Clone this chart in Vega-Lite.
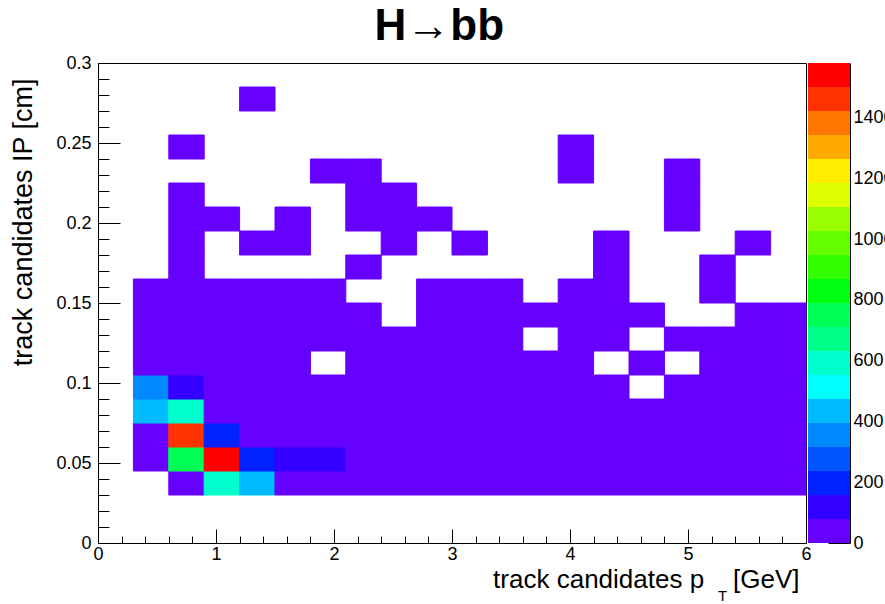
{
  "$schema": "https://vega.github.io/schema/vega-lite/v6.json",
  "background": "white",
  "padding": {"left": 9, "top": 4, "right": -8, "bottom": 0},
  "bounds": "flush",
  "title": {"text": "H→bb", "fontSize": 44, "fontWeight": "bold", "font": "Liberation Sans", "color": "black", "anchor": "middle", "offset": 5, "dx": -12},
  "config": {
    "font": "Liberation Sans",
    "view": {"stroke": null},
    "axis": {"labelFont": "Liberation Sans", "titleFont": "Liberation Sans", "labelColor": "black", "titleColor": "black", "tickColor": "black", "domainColor": "black", "grid": false, "titleFontWeight": "normal", "labelFlush": false, "labelOverlap": false}
  },
  "datasets": {
    "cells": [
      {"pt":0.6,"pt2":0.9,"ip":0.03,"ip2":0.045,"n":40},
      {"pt":0.9,"pt2":1.2,"ip":0.03,"ip2":0.045,"n":580},
      {"pt":1.2,"pt2":1.5,"ip":0.03,"ip2":0.045,"n":440},
      {"pt":1.5,"pt2":1.8,"ip":0.03,"ip2":0.045,"n":70},
      {"pt":1.8,"pt2":2.1,"ip":0.03,"ip2":0.045,"n":60},
      {"pt":2.1,"pt2":2.4,"ip":0.03,"ip2":0.045,"n":55},
      {"pt":2.4,"pt2":2.7,"ip":0.03,"ip2":0.045,"n":50},
      {"pt":2.7,"pt2":3.0,"ip":0.03,"ip2":0.045,"n":45},
      {"pt":3.0,"pt2":3.3,"ip":0.03,"ip2":0.045,"n":40},
      {"pt":3.3,"pt2":3.6,"ip":0.03,"ip2":0.045,"n":38},
      {"pt":3.6,"pt2":3.9,"ip":0.03,"ip2":0.045,"n":35},
      {"pt":3.9,"pt2":4.2,"ip":0.03,"ip2":0.045,"n":32},
      {"pt":4.2,"pt2":4.5,"ip":0.03,"ip2":0.045,"n":30},
      {"pt":4.5,"pt2":4.8,"ip":0.03,"ip2":0.045,"n":28},
      {"pt":4.8,"pt2":5.1,"ip":0.03,"ip2":0.045,"n":26},
      {"pt":5.1,"pt2":5.4,"ip":0.03,"ip2":0.045,"n":24},
      {"pt":5.4,"pt2":5.7,"ip":0.03,"ip2":0.045,"n":22},
      {"pt":5.7,"pt2":6.0,"ip":0.03,"ip2":0.045,"n":20},

      {"pt":0.3,"pt2":0.6,"ip":0.045,"ip2":0.06,"n":45},
      {"pt":0.6,"pt2":0.9,"ip":0.045,"ip2":0.06,"n":750},
      {"pt":0.9,"pt2":1.2,"ip":0.045,"ip2":0.06,"n":1575},
      {"pt":1.2,"pt2":1.5,"ip":0.045,"ip2":0.06,"n":210},
      {"pt":1.5,"pt2":1.8,"ip":0.045,"ip2":0.06,"n":110},
      {"pt":1.8,"pt2":2.1,"ip":0.045,"ip2":0.06,"n":95},
      {"pt":2.1,"pt2":2.4,"ip":0.045,"ip2":0.06,"n":65},
      {"pt":2.4,"pt2":2.7,"ip":0.045,"ip2":0.06,"n":58},
      {"pt":2.7,"pt2":3.0,"ip":0.045,"ip2":0.06,"n":52},
      {"pt":3.0,"pt2":3.3,"ip":0.045,"ip2":0.06,"n":46},
      {"pt":3.3,"pt2":3.6,"ip":0.045,"ip2":0.06,"n":42},
      {"pt":3.6,"pt2":3.9,"ip":0.045,"ip2":0.06,"n":38},
      {"pt":3.9,"pt2":4.2,"ip":0.045,"ip2":0.06,"n":35},
      {"pt":4.2,"pt2":4.5,"ip":0.045,"ip2":0.06,"n":32},
      {"pt":4.5,"pt2":4.8,"ip":0.045,"ip2":0.06,"n":30},
      {"pt":4.8,"pt2":5.1,"ip":0.045,"ip2":0.06,"n":27},
      {"pt":5.1,"pt2":5.4,"ip":0.045,"ip2":0.06,"n":25},
      {"pt":5.4,"pt2":5.7,"ip":0.045,"ip2":0.06,"n":23},
      {"pt":5.7,"pt2":6.0,"ip":0.045,"ip2":0.06,"n":21},

      {"pt":0.3,"pt2":0.6,"ip":0.06,"ip2":0.075,"n":50},
      {"pt":0.6,"pt2":0.9,"ip":0.06,"ip2":0.075,"n":1460},
      {"pt":0.9,"pt2":1.2,"ip":0.06,"ip2":0.075,"n":200},
      {"pt":1.2,"pt2":1.5,"ip":0.06,"ip2":0.075,"n":70},
      {"pt":1.5,"pt2":1.8,"ip":0.06,"ip2":0.075,"n":60},
      {"pt":1.8,"pt2":2.1,"ip":0.06,"ip2":0.075,"n":52},
      {"pt":2.1,"pt2":2.4,"ip":0.06,"ip2":0.075,"n":46},
      {"pt":2.4,"pt2":2.7,"ip":0.06,"ip2":0.075,"n":40},
      {"pt":2.7,"pt2":3.0,"ip":0.06,"ip2":0.075,"n":36},
      {"pt":3.0,"pt2":3.3,"ip":0.06,"ip2":0.075,"n":32},
      {"pt":3.3,"pt2":3.6,"ip":0.06,"ip2":0.075,"n":29},
      {"pt":3.6,"pt2":3.9,"ip":0.06,"ip2":0.075,"n":26},
      {"pt":3.9,"pt2":4.2,"ip":0.06,"ip2":0.075,"n":24},
      {"pt":4.2,"pt2":4.5,"ip":0.06,"ip2":0.075,"n":22},
      {"pt":4.5,"pt2":4.8,"ip":0.06,"ip2":0.075,"n":20},
      {"pt":4.8,"pt2":5.1,"ip":0.06,"ip2":0.075,"n":18},
      {"pt":5.1,"pt2":5.4,"ip":0.06,"ip2":0.075,"n":17},
      {"pt":5.4,"pt2":5.7,"ip":0.06,"ip2":0.075,"n":15},
      {"pt":5.7,"pt2":6.0,"ip":0.06,"ip2":0.075,"n":14},

      {"pt":0.3,"pt2":0.6,"ip":0.075,"ip2":0.09,"n":430},
      {"pt":0.6,"pt2":0.9,"ip":0.075,"ip2":0.09,"n":590},
      {"pt":0.9,"pt2":1.2,"ip":0.075,"ip2":0.09,"n":62},
      {"pt":1.2,"pt2":1.5,"ip":0.075,"ip2":0.09,"n":48},
      {"pt":1.5,"pt2":1.8,"ip":0.075,"ip2":0.09,"n":40},
      {"pt":1.8,"pt2":2.1,"ip":0.075,"ip2":0.09,"n":34},
      {"pt":2.1,"pt2":2.4,"ip":0.075,"ip2":0.09,"n":30},
      {"pt":2.4,"pt2":2.7,"ip":0.075,"ip2":0.09,"n":26},
      {"pt":2.7,"pt2":3.0,"ip":0.075,"ip2":0.09,"n":23},
      {"pt":3.0,"pt2":3.3,"ip":0.075,"ip2":0.09,"n":21},
      {"pt":3.3,"pt2":3.6,"ip":0.075,"ip2":0.09,"n":19},
      {"pt":3.6,"pt2":3.9,"ip":0.075,"ip2":0.09,"n":17},
      {"pt":3.9,"pt2":4.2,"ip":0.075,"ip2":0.09,"n":15},
      {"pt":4.2,"pt2":4.5,"ip":0.075,"ip2":0.09,"n":14},
      {"pt":4.5,"pt2":4.8,"ip":0.075,"ip2":0.09,"n":12},
      {"pt":4.8,"pt2":5.1,"ip":0.075,"ip2":0.09,"n":11},
      {"pt":5.1,"pt2":5.4,"ip":0.075,"ip2":0.09,"n":10},
      {"pt":5.4,"pt2":5.7,"ip":0.075,"ip2":0.09,"n":9},
      {"pt":5.7,"pt2":6.0,"ip":0.075,"ip2":0.09,"n":8},

      {"pt":0.3,"pt2":0.6,"ip":0.09,"ip2":0.105,"n":350},
      {"pt":0.6,"pt2":0.9,"ip":0.09,"ip2":0.105,"n":120},
      {"pt":0.9,"pt2":1.2,"ip":0.09,"ip2":0.105,"n":45},
      {"pt":1.2,"pt2":1.5,"ip":0.09,"ip2":0.105,"n":35},
      {"pt":1.5,"pt2":1.8,"ip":0.09,"ip2":0.105,"n":28},
      {"pt":1.8,"pt2":2.1,"ip":0.09,"ip2":0.105,"n":23},
      {"pt":2.1,"pt2":2.4,"ip":0.09,"ip2":0.105,"n":20},
      {"pt":2.4,"pt2":2.7,"ip":0.09,"ip2":0.105,"n":17},
      {"pt":2.7,"pt2":3.0,"ip":0.09,"ip2":0.105,"n":15},
      {"pt":3.0,"pt2":3.3,"ip":0.09,"ip2":0.105,"n":13},
      {"pt":3.3,"pt2":3.6,"ip":0.09,"ip2":0.105,"n":11},
      {"pt":3.6,"pt2":3.9,"ip":0.09,"ip2":0.105,"n":10},
      {"pt":3.9,"pt2":4.2,"ip":0.09,"ip2":0.105,"n":9},
      {"pt":4.2,"pt2":4.5,"ip":0.09,"ip2":0.105,"n":8},
      {"pt":4.8,"pt2":5.1,"ip":0.09,"ip2":0.105,"n":6},
      {"pt":5.1,"pt2":5.4,"ip":0.09,"ip2":0.105,"n":6},
      {"pt":5.4,"pt2":5.7,"ip":0.09,"ip2":0.105,"n":5},
      {"pt":5.7,"pt2":6.0,"ip":0.09,"ip2":0.105,"n":5},

      {"pt":0.3,"pt2":0.6,"ip":0.105,"ip2":0.12,"n":60},
      {"pt":0.6,"pt2":0.9,"ip":0.105,"ip2":0.12,"n":50},
      {"pt":0.9,"pt2":1.2,"ip":0.105,"ip2":0.12,"n":30},
      {"pt":1.2,"pt2":1.5,"ip":0.105,"ip2":0.12,"n":22},
      {"pt":1.5,"pt2":1.8,"ip":0.105,"ip2":0.12,"n":17},
      {"pt":2.1,"pt2":2.4,"ip":0.105,"ip2":0.12,"n":12},
      {"pt":2.4,"pt2":2.7,"ip":0.105,"ip2":0.12,"n":10},
      {"pt":2.7,"pt2":3.0,"ip":0.105,"ip2":0.12,"n":9},
      {"pt":3.0,"pt2":3.3,"ip":0.105,"ip2":0.12,"n":8},
      {"pt":3.3,"pt2":3.6,"ip":0.105,"ip2":0.12,"n":7},
      {"pt":3.6,"pt2":3.9,"ip":0.105,"ip2":0.12,"n":6},
      {"pt":3.9,"pt2":4.2,"ip":0.105,"ip2":0.12,"n":5},
      {"pt":4.5,"pt2":4.8,"ip":0.105,"ip2":0.12,"n":4},
      {"pt":5.1,"pt2":5.4,"ip":0.105,"ip2":0.12,"n":4},
      {"pt":5.4,"pt2":5.7,"ip":0.105,"ip2":0.12,"n":3},
      {"pt":5.7,"pt2":6.0,"ip":0.105,"ip2":0.12,"n":3},

      {"pt":0.3,"pt2":0.6,"ip":0.12,"ip2":0.135,"n":30},
      {"pt":0.6,"pt2":0.9,"ip":0.12,"ip2":0.135,"n":28},
      {"pt":0.9,"pt2":1.2,"ip":0.12,"ip2":0.135,"n":20},
      {"pt":1.2,"pt2":1.5,"ip":0.12,"ip2":0.135,"n":15},
      {"pt":1.5,"pt2":1.8,"ip":0.12,"ip2":0.135,"n":11},
      {"pt":1.8,"pt2":2.1,"ip":0.12,"ip2":0.135,"n":9},
      {"pt":2.1,"pt2":2.4,"ip":0.12,"ip2":0.135,"n":8},
      {"pt":2.4,"pt2":2.7,"ip":0.12,"ip2":0.135,"n":7},
      {"pt":2.7,"pt2":3.0,"ip":0.12,"ip2":0.135,"n":6},
      {"pt":3.0,"pt2":3.3,"ip":0.12,"ip2":0.135,"n":5},
      {"pt":3.3,"pt2":3.6,"ip":0.12,"ip2":0.135,"n":4},
      {"pt":3.9,"pt2":4.2,"ip":0.12,"ip2":0.135,"n":3},
      {"pt":4.2,"pt2":4.5,"ip":0.12,"ip2":0.135,"n":3},
      {"pt":4.8,"pt2":5.1,"ip":0.12,"ip2":0.135,"n":2},
      {"pt":5.1,"pt2":5.4,"ip":0.12,"ip2":0.135,"n":2},
      {"pt":5.4,"pt2":5.7,"ip":0.12,"ip2":0.135,"n":2},
      {"pt":5.7,"pt2":6.0,"ip":0.12,"ip2":0.135,"n":2},

      {"pt":0.3,"pt2":0.6,"ip":0.135,"ip2":0.15,"n":18},
      {"pt":0.6,"pt2":0.9,"ip":0.135,"ip2":0.15,"n":16},
      {"pt":0.9,"pt2":1.2,"ip":0.135,"ip2":0.15,"n":12},
      {"pt":1.2,"pt2":1.5,"ip":0.135,"ip2":0.15,"n":9},
      {"pt":1.5,"pt2":1.8,"ip":0.135,"ip2":0.15,"n":7},
      {"pt":1.8,"pt2":2.1,"ip":0.135,"ip2":0.15,"n":5},
      {"pt":2.1,"pt2":2.4,"ip":0.135,"ip2":0.15,"n":4},
      {"pt":2.7,"pt2":3.0,"ip":0.135,"ip2":0.15,"n":3},
      {"pt":3.0,"pt2":3.3,"ip":0.135,"ip2":0.15,"n":3},
      {"pt":3.3,"pt2":3.6,"ip":0.135,"ip2":0.15,"n":2},
      {"pt":3.6,"pt2":3.9,"ip":0.135,"ip2":0.15,"n":2},
      {"pt":3.9,"pt2":4.2,"ip":0.135,"ip2":0.15,"n":2},
      {"pt":4.2,"pt2":4.5,"ip":0.135,"ip2":0.15,"n":2},
      {"pt":4.5,"pt2":4.8,"ip":0.135,"ip2":0.15,"n":1},
      {"pt":5.4,"pt2":5.7,"ip":0.135,"ip2":0.15,"n":1},
      {"pt":5.7,"pt2":6.0,"ip":0.135,"ip2":0.15,"n":1},

      {"pt":0.3,"pt2":0.6,"ip":0.15,"ip2":0.165,"n":10},
      {"pt":0.6,"pt2":0.9,"ip":0.15,"ip2":0.165,"n":9},
      {"pt":0.9,"pt2":1.2,"ip":0.15,"ip2":0.165,"n":7},
      {"pt":1.2,"pt2":1.5,"ip":0.15,"ip2":0.165,"n":5},
      {"pt":1.5,"pt2":1.8,"ip":0.15,"ip2":0.165,"n":4},
      {"pt":1.8,"pt2":2.1,"ip":0.15,"ip2":0.165,"n":3},
      {"pt":2.7,"pt2":3.0,"ip":0.15,"ip2":0.165,"n":2},
      {"pt":3.0,"pt2":3.3,"ip":0.15,"ip2":0.165,"n":2},
      {"pt":3.3,"pt2":3.6,"ip":0.15,"ip2":0.165,"n":1},
      {"pt":3.9,"pt2":4.2,"ip":0.15,"ip2":0.165,"n":1},
      {"pt":4.2,"pt2":4.5,"ip":0.15,"ip2":0.165,"n":1},
      {"pt":5.1,"pt2":5.4,"ip":0.15,"ip2":0.165,"n":1},

      {"pt":0.6,"pt2":0.9,"ip":0.165,"ip2":0.18,"n":5},
      {"pt":2.1,"pt2":2.4,"ip":0.165,"ip2":0.18,"n":2},
      {"pt":4.2,"pt2":4.5,"ip":0.165,"ip2":0.18,"n":1},
      {"pt":5.1,"pt2":5.4,"ip":0.165,"ip2":0.18,"n":1},

      {"pt":0.6,"pt2":0.9,"ip":0.18,"ip2":0.195,"n":4},
      {"pt":1.2,"pt2":1.5,"ip":0.18,"ip2":0.195,"n":2},
      {"pt":1.5,"pt2":1.8,"ip":0.18,"ip2":0.195,"n":2},
      {"pt":2.4,"pt2":2.7,"ip":0.18,"ip2":0.195,"n":1},
      {"pt":3.0,"pt2":3.3,"ip":0.18,"ip2":0.195,"n":1},
      {"pt":4.2,"pt2":4.5,"ip":0.18,"ip2":0.195,"n":1},
      {"pt":5.4,"pt2":5.7,"ip":0.18,"ip2":0.195,"n":1},

      {"pt":0.6,"pt2":0.9,"ip":0.195,"ip2":0.21,"n":3},
      {"pt":0.9,"pt2":1.2,"ip":0.195,"ip2":0.21,"n":2},
      {"pt":1.5,"pt2":1.8,"ip":0.195,"ip2":0.21,"n":1},
      {"pt":2.1,"pt2":2.4,"ip":0.195,"ip2":0.21,"n":1},
      {"pt":2.4,"pt2":2.7,"ip":0.195,"ip2":0.21,"n":1},
      {"pt":2.7,"pt2":3.0,"ip":0.195,"ip2":0.21,"n":1},
      {"pt":4.8,"pt2":5.1,"ip":0.195,"ip2":0.21,"n":1},

      {"pt":0.6,"pt2":0.9,"ip":0.21,"ip2":0.225,"n":2},
      {"pt":2.1,"pt2":2.4,"ip":0.21,"ip2":0.225,"n":1},
      {"pt":2.4,"pt2":2.7,"ip":0.21,"ip2":0.225,"n":1},
      {"pt":4.8,"pt2":5.1,"ip":0.21,"ip2":0.225,"n":1},

      {"pt":1.8,"pt2":2.1,"ip":0.225,"ip2":0.24,"n":1},
      {"pt":2.1,"pt2":2.4,"ip":0.225,"ip2":0.24,"n":1},
      {"pt":3.9,"pt2":4.2,"ip":0.225,"ip2":0.24,"n":1},
      {"pt":4.8,"pt2":5.1,"ip":0.225,"ip2":0.24,"n":1},

      {"pt":0.6,"pt2":0.9,"ip":0.24,"ip2":0.255,"n":1},
      {"pt":3.9,"pt2":4.2,"ip":0.24,"ip2":0.255,"n":1},

      {"pt":1.2,"pt2":1.5,"ip":0.27,"ip2":0.285,"n":1}
    ],
    "bands": [
      {"lo":0,"hi":79},{"lo":79,"hi":158},{"lo":158,"hi":237},{"lo":237,"hi":316},
      {"lo":316,"hi":395},{"lo":395,"hi":474},{"lo":474,"hi":553},{"lo":553,"hi":632},
      {"lo":632,"hi":711},{"lo":711,"hi":790},{"lo":790,"hi":869},{"lo":869,"hi":948},
      {"lo":948,"hi":1027},{"lo":1027,"hi":1106},{"lo":1106,"hi":1185},{"lo":1185,"hi":1264},
      {"lo":1264,"hi":1343},{"lo":1343,"hi":1422},{"lo":1422,"hi":1501},{"lo":1501,"hi":1580}
    ]
  },
  "spacing": 2,
  "hconcat": [
    {
      "width": 708,
      "height": 480,
      "view": {"stroke": "black", "strokeWidth": 1},
      "data": {"name": "cells"},
      "layer": [
        {
          "mark": {"type": "rect", "strokeWidth": 1},
          "encoding": {
            "x": {"field": "pt", "type": "quantitative", "scale": {"domain": [0, 6], "nice": false, "zero": false},
              "axis": {"orient": "bottom", "values": [0,1,2,3,4,5,6], "format": "d", "tickSize": -14, "labelFontSize": 18, "labelPadding": 16, "domain": true,
                "title": "track candidates p\u00a0\u00a0\u00a0\u00a0[GeV]", "titleFontSize": 26, "titleAlign": "right", "titleAnchor": "end", "titleX": 701, "titleY": 44, "titleBaseline": "alphabetic"}},
            "x2": {"field": "pt2"},
            "y": {"field": "ip", "type": "quantitative", "scale": {"domain": [0, 0.3], "nice": false, "zero": false},
              "axis": {"orient": "left", "values": [0,0.05,0.1,0.15,0.2,0.25,0.3], "format": "~g", "tickSize": -22, "labelFontSize": 18, "labelPadding": 29, "domain": true,
                "title": "track candidates IP [cm]", "titleFontSize": 27, "titleAnchor": "end", "titleAlign": "right", "titleY": 15, "titlePadding": 18}},
            "y2": {"field": "ip2"},
            "color": {"field": "n", "type": "quantitative",
              "scale": {"type": "quantize", "domain": [0, 1580], "nice": false,
                "range": ["#6600ff","#3300ff","#0022ff","#0055ff","#0088ff","#00bbff","#00ffff","#00ffcc","#00ff88","#00ff55","#00ff11","#33ff00","#66ff00","#99ff00","#ddff00","#ffee00","#ffaa00","#ff7700","#ff3300","#ff0000"]},
              "legend": null},
            "stroke": {"field": "n", "type": "quantitative",
              "scale": {"type": "quantize", "domain": [0, 1580], "nice": false,
                "range": ["#6600ff","#3300ff","#0022ff","#0055ff","#0088ff","#00bbff","#00ffff","#00ffcc","#00ff88","#00ff55","#00ff11","#33ff00","#66ff00","#99ff00","#ddff00","#ffee00","#ffaa00","#ff7700","#ff3300","#ff0000"]},
              "legend": null}
          }
        },
        {
          "mark": {"type": "rect", "opacity": 0},
          "encoding": {
            "x": {"field": "pt", "type": "quantitative",
              "axis": {"orient": "bottom", "values": [0,0.2,0.4,0.6,0.8,1,1.2,1.4,1.6,1.8,2,2.2,2.4,2.6,2.8,3,3.2,3.4,3.6,3.8,4,4.2,4.4,4.6,4.8,5,5.2,5.4,5.6,5.8,6], "tickSize": -7, "labels": false, "domain": false,
                "title": "T", "titleFontSize": 15, "titleAlign": "center", "titleX": 624, "titleY": 57, "titleBaseline": "alphabetic"}},
            "x2": {"field": "pt2"},
            "y": {"field": "ip", "type": "quantitative",
              "axis": {"orient": "left", "values": [0,0.01,0.02,0.03,0.04,0.05,0.06,0.07,0.08,0.09,0.1,0.11,0.12,0.13,0.14,0.15,0.16,0.17,0.18,0.19,0.2,0.21,0.22,0.23,0.24,0.25,0.26,0.27,0.28,0.29,0.3], "tickSize": -11, "labels": false, "domain": false, "title": null}},
            "y2": {"field": "ip2"}
          }
        }
      ],
      "resolve": {"axis": {"x": "independent", "y": "independent"}}
    },
    {
      "width": 42,
      "height": 480,
      "data": {"name": "bands"},
      "mark": {"type": "rect"},
      "encoding": {
        "x": {"value": 0},
        "x2": {"value": "width"},
        "y": {"field": "lo", "type": "quantitative", "scale": {"domain": [0, 1580], "nice": false, "zero": false},
          "axis": {"orient": "right", "values": [0,200,400,600,800,1000,1200,1400], "format": "d", "tickSize": -22, "labelFontSize": 18, "labelPadding": 25, "domain": true, "title": null}},
        "y2": {"field": "hi"},
        "color": {"field": "lo", "type": "quantitative",
          "scale": {"type": "quantize", "domain": [0, 1580], "nice": false,
            "range": ["#6600ff","#3300ff","#0022ff","#0055ff","#0088ff","#00bbff","#00ffff","#00ffcc","#00ff88","#00ff55","#00ff11","#33ff00","#66ff00","#99ff00","#ddff00","#ffee00","#ffaa00","#ff7700","#ff3300","#ff0000"]},
          "legend": null}
      }
    }
  ]
}
